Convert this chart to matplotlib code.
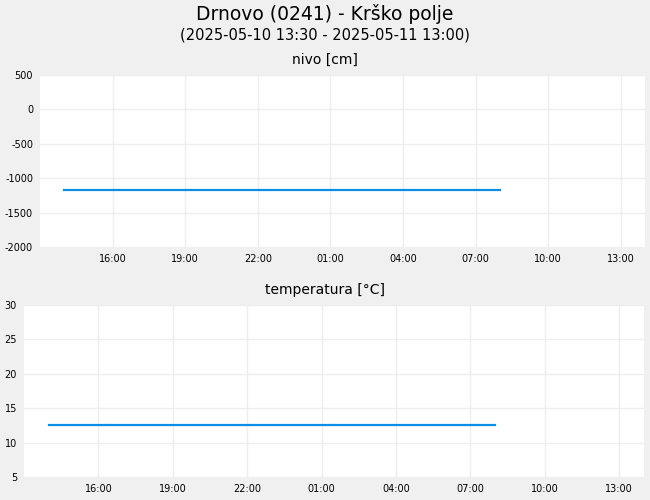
import matplotlib
matplotlib.use("Agg")
import matplotlib.pyplot as plt
import matplotlib.dates as mdates
import pandas as pd

plt.rcParams["axes.unicode_minus"] = False

title = "Drnovo (0241) - Krško polje"
subtitle = "(2025-05-10 13:30 - 2025-05-11 13:00)"
panel_titles = ["nivo [cm]", "temperatura [°C]"]

times = pd.date_range("2025-05-10 14:00", "2025-05-11 08:00", freq="h")
nivo = [-1175, -1175, -1175, -1175, -1175, -1175, -1175, -1175, -1175, -1175,
        -1175, -1175, -1175, -1175, -1175, -1175, -1175, -1175, -1175]
temperatura = [12.6, 12.6, 12.6, 12.6, 12.6, 12.6, 12.6, 12.6, 12.6, 12.6,
               12.6, 12.6, 12.6, 12.6, 12.6, 12.6, 12.6, 12.6, 12.6]

nivo_ticks = [-2000, -1500, -1000, -500, 0, 500]
temp_ticks = [5, 10, 15, 20, 25, 30]
x_ticks = pd.date_range("2025-05-10 16:00", "2025-05-11 13:00", freq="3h")
xmin = pd.Timestamp("2025-05-10 13:00")
xmax = pd.Timestamp("2025-05-11 14:00")

bg = "#f0f0f0"
line_color = "#0a8ee6"
grid_color = "#eeeeee"

fig = plt.figure(figsize=(6.5, 5), dpi=100, facecolor=bg)
ax1 = fig.add_axes([40/650, 1-247/500, 605/650, 172/500])
ax2 = fig.add_axes([24/650, 1-477/500, 620/650, 172/500])

fig.text(0.5, 1-14/500, title, ha="center", va="center", fontsize=13.5)
fig.text(0.5, 1-35/500, subtitle, ha="center", va="center", fontsize=10.5)
fig.text(0.5, 1-60/500, panel_titles[0], ha="center", va="center", fontsize=10)
fig.text(0.5, 1-290/500, panel_titles[1], ha="center", va="center", fontsize=10)

for ax, y, yt in [(ax1, nivo, nivo_ticks), (ax2, temperatura, temp_ticks)]:
    ax.set_facecolor("white")
    ax.plot(times, y, color=line_color, lw=1.6)
    ax.set_xlim(xmin, xmax)
    ax.set_ylim(yt[0], yt[-1])
    ax.set_yticks(yt)
    ax.set_xticks(x_ticks)
    ax.xaxis.set_major_formatter(mdates.DateFormatter("%H:%M"))
    ax.grid(True, color=grid_color, lw=1)
    ax.set_axisbelow(True)
    for s in ax.spines.values():
        s.set_visible(False)
    ax.tick_params(length=0, labelsize=7, pad=5)

plt.savefig("out.png", dpi=100, facecolor=bg)
